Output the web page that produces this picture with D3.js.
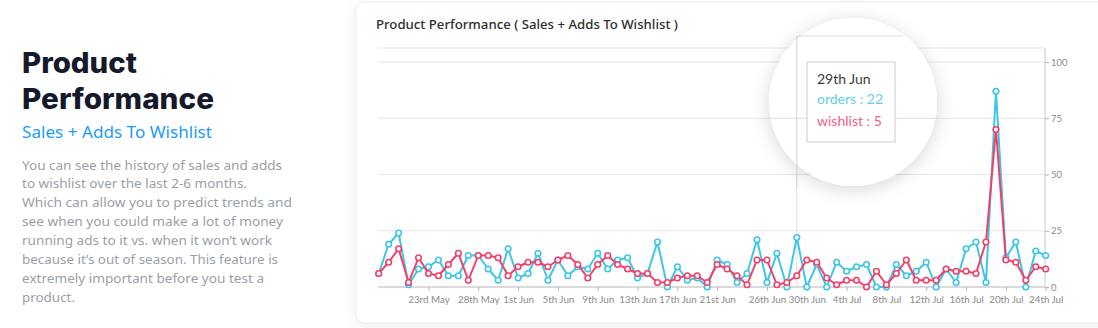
<!DOCTYPE html>
<html><head><meta charset="utf-8">
<script src="https://cdn.jsdelivr.net/npm/d3@7"></script>
<style>
html,body{margin:0;padding:0;background:#fff;}
svg{display:block;}
</style></head>
<body>
<svg id="c" width="1098" height="328"></svg>
<script>
// ---- DATA ----
const dates = [
 "05-18","05-19","05-20","05-21","05-22","05-23","05-24","05-25","05-26","05-27","05-28","05-29","05-30","05-31",
 "06-01","06-02","06-03","06-04","06-05","06-06","06-07","06-08","06-09","06-10","06-11","06-12","06-13","06-14","06-15",
 "06-16","06-17","06-18","06-19","06-20","06-21","06-22","06-23","06-24","06-25","06-26","06-27","06-28","06-29","06-30",
 "07-01","07-02","07-03","07-04","07-05","07-06","07-07","07-08","07-09","07-10","07-11","07-12","07-13","07-14","07-15",
 "07-16","07-17","07-18","07-19","07-20","07-21","07-22","07-23","07-24"];
const orders = [6,19,24,1,8,9,12,5,5,14,14,8,3,17,4,6,15,3,12,5,9,8,15,8,12,13,4,6,20,0,9,3,4,0,
 12,10,2,6,21,2,15,0,22,0,10,0,11,7,9,10,0,0,10,5,7,11,0,8,2,17,20,2,87,13,20,0,16,14];
const wishlist = [6,11,17,2,13,6,5,10,15,3,14,14,13,5,9,11,11,9,12,14,10,4,10,14,10,8,6,6,2,2,4,5,5,2,
 10,8,5,1,12,12,1,2,5,12,11,4,1,3,3,0,7,1,6,12,3,3,3,8,7,7,6,20,70,12,11,3,9,8];
const tickDates = ["05-23","05-28","06-01","06-05","06-09","06-13","06-17","06-21","06-26","06-30",
 "07-04","07-08","07-12","07-16","07-20","07-24"];
const tickLabels = ["23rd May","28th May","1st Jun","5th Jun","9th Jun","13th Jun","17th Jun","21st Jun",
 "26th Jun","30th Jun","4th Jul","8th Jul","12th Jul","16th Jul","20th Jul","24th Jul"];
const yTicks = [0,25,50,75,100];
const hoverDate = "06-29";
const hoverLabel = "29th Jun";

const introTitle = ["Product","Performance"];
const introSub = "Sales + Adds To Wishlist";
const introBody = [
 "You can see the history of sales and adds",
 "to wishlist over the last 2-6 months.",
 "Which can allow you to predict trends and",
 "see when you could make a lot of money",
 "running ads to it vs. when it won\u2019t work",
 "because it\u2019s out of season. This feature is",
 "extremely important before you test a",
 "product."];
const bodyWidths = [260,225,270,261,250,256,242,53];
const chartTitle = "Product Performance ( Sales + Adds To Wishlist )";

// ---- DRAW ----
const parse = s => d3.timeParse("%Y-%m-%d")("2021-" + s);
const D = dates.map(parse);
const svg = d3.select("#c");
const BLUE = "#3ec6e6", RED = "#f3406a";

const defs = svg.append("defs");
const f1 = defs.append("filter").attr("id","cardsh").attr("x","-10%").attr("y","-10%").attr("width","120%").attr("height","130%");
f1.append("feDropShadow").attr("dx",0).attr("dy",2).attr("stdDeviation",6).attr("flood-color","#000").attr("flood-opacity",0.07);
const f2 = defs.append("filter").attr("id","lenssh").attr("x","-40%").attr("y","-40%").attr("width","180%").attr("height","180%");
f2.append("feDropShadow").attr("dx",0).attr("dy",3).attr("stdDeviation",9).attr("flood-color","#000").attr("flood-opacity",0.16);

// left intro
const L = svg.append("g");
L.selectAll("text.t").data(introTitle).join("text")
  .attr("x",22).attr("y",(d,i)=>73+i*36)
  .attr("font-family","Inter, 'Noto Sans', sans-serif").attr("font-weight",800)
  .attr("font-size",28).attr("fill","#141a2b")
  .attr("textLength",(d,i)=>[115,192][i]).attr("lengthAdjust","spacingAndGlyphs")
  .text(d=>d);
L.append("text").attr("x",22).attr("y",138)
  .attr("font-family","'Noto Sans', sans-serif").attr("font-size",16.5).attr("fill","#1c9cf2")
  .attr("textLength",190).attr("lengthAdjust","spacingAndGlyphs").text(introSub);
L.selectAll("text.b").data(introBody).join("text")
  .attr("x",22).attr("y",(d,i)=>169.5+i*18.9)
  .attr("font-family","'Noto Sans', sans-serif").attr("font-size",13.2).attr("fill","#9a9fa7")
  .attr("textLength",(d,i)=>bodyWidths[i]).attr("lengthAdjust","spacingAndGlyphs")
  .text(d=>d);

// card
svg.append("rect").attr("x",356).attr("y",2).attr("width",760).attr("height",321)
  .attr("rx",8).attr("fill","#fff").attr("stroke","#ececec").attr("filter","url(#cardsh)");
svg.append("text").attr("x",376).attr("y",28.5)
  .attr("font-family","'Noto Sans', sans-serif").attr("font-weight",500).attr("font-size",12.2)
  .attr("fill","#2e2e2e").attr("textLength",302).attr("lengthAdjust","spacingAndGlyphs").text(chartTitle);

const x = d3.scaleTime().domain([D[0], D[D.length-1]]).range([378.7, 1045.7]);
const y = d3.scaleLinear().domain([0,100]).range([287,62]);
const X0 = 378, X1 = 1045;

// grid
const G = svg.append("g");
G.append("line").attr("x1",X0).attr("x2",X1).attr("y1",48).attr("y2",48).attr("stroke","#e6e6e6").attr("stroke-width",1.2);
G.selectAll("line.g").data(yTicks.filter(v=>v>0)).join("line")
  .attr("x1",X0).attr("x2",X1).attr("y1",d=>y(d)).attr("y2",d=>y(d))
  .attr("stroke","#e6e6e6").attr("stroke-width",1.2);

// hover vertical line
const hx = x(parse(hoverDate));
svg.append("line").attr("x1",hx).attr("x2",hx).attr("y1",36).attr("y2",287).attr("stroke","#dedede");

// axes
const ax = svg.append("g").attr("transform","translate(0,287)")
  .call(d3.axisBottom(x).tickValues(tickDates.map(parse)).tickFormat((d,i)=>tickLabels[i]).tickSize(4).tickPadding(5));
ax.select(".domain").attr("d",`M${X0},0H${X1}`).attr("stroke","#b5b5b5");
ax.selectAll(".tick line").attr("stroke","#b5b5b5");
ax.selectAll("text").attr("font-family","Lato, 'Noto Sans', sans-serif").attr("font-size",9.8).attr("fill","#8a8a8a");

const ay = svg.append("g").attr("transform",`translate(${X1},0)`)
  .call(d3.axisRight(y).tickValues(yTicks).tickSize(4).tickPadding(2));
ay.select(".domain").attr("d","M0,48V287").attr("stroke","#c8c8c8");
ay.selectAll(".tick line").attr("stroke","#b5b5b5");
ay.selectAll("text").attr("font-family","Lato, 'Noto Sans', sans-serif").attr("font-size",9.5).attr("fill","#8a8a8a");

// series
const line = d3.line().x((d,i)=>x(D[i])).y(d=>y(d));
[[orders,BLUE],[wishlist,RED]].forEach(([s,c])=>{
  svg.append("path").datum(s).attr("d",line).attr("fill","none").attr("stroke",c)
    .attr("stroke-width",2).attr("stroke-linejoin","round");
  svg.append("g").selectAll("circle").data(s).join("circle")
    .attr("cx",(d,i)=>x(D[i])).attr("cy",d=>y(d)).attr("r",2.8)
    .attr("fill","#fff").attr("stroke",c).attr("stroke-width",1.6);
});

// lens with tooltip
svg.append("circle").attr("cx",853).attr("cy",102).attr("r",84).attr("fill","#fff").attr("filter","url(#lenssh)");
svg.append("line").attr("x1",hx).attr("x2",903).attr("y1",36).attr("y2",36).attr("stroke","#dcdcdc").attr("stroke-width",1.2);
svg.append("line").attr("x1",hx).attr("x2",hx).attr("y1",36).attr("y2",186).attr("stroke","#dcdcdc").attr("stroke-width",1.2);
svg.append("line").attr("x1",770).attr("x2",937).attr("y1",y(75)).attr("y2",y(75)).attr("stroke","#dcdcdc").attr("stroke-width",1.2);
svg.append("rect").attr("x",807).attr("y",62).attr("width",88).attr("height",80)
  .attr("fill","#fff").attr("stroke","#d6d6d6").attr("stroke-width",1.2);
const hi = dates.indexOf(hoverDate);
const tt = [[hoverLabel,"#3a3a3a",84],["orders : "+orders[hi],"#5fd0e8",104],["wishlist : "+wishlist[hi],"#f56084",126]];
svg.selectAll("text.tt").data(tt).join("text")
  .attr("x",817).attr("y",d=>d[2]).attr("fill",d=>d[1])
  .attr("font-family","Lato, 'Noto Sans', sans-serif").attr("font-size",14).text(d=>d[0]);
</script>
</body></html>
